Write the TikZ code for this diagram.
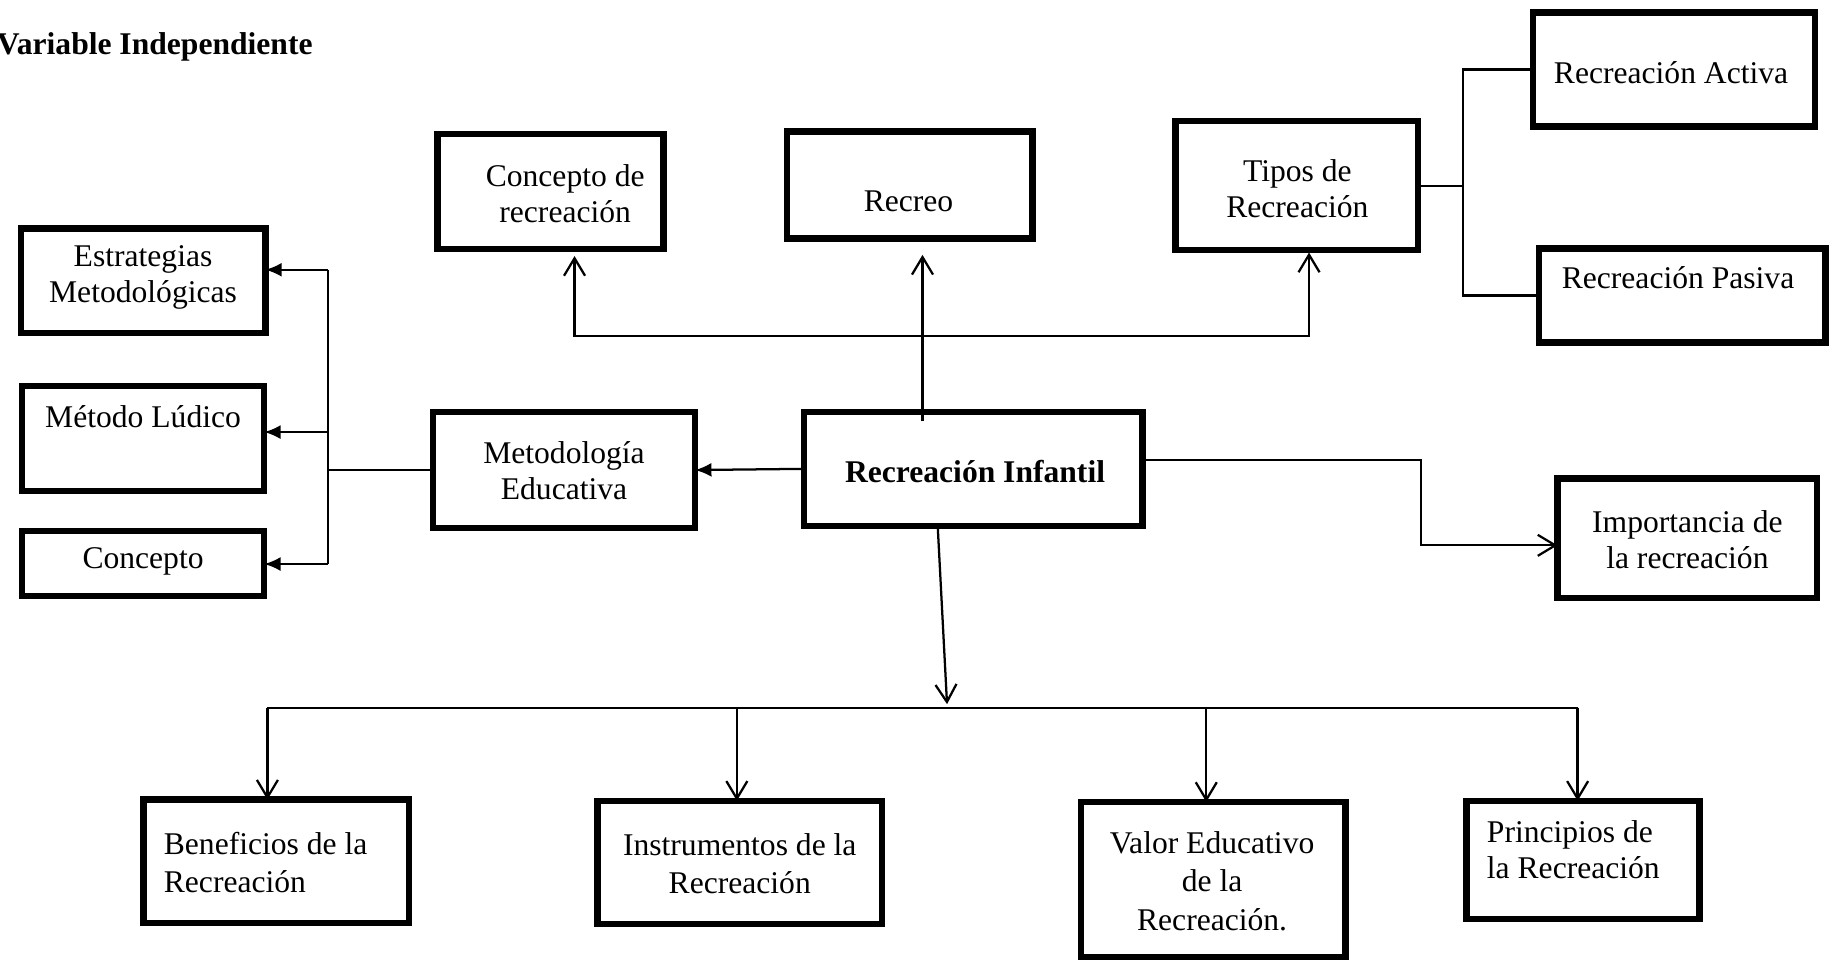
\documentclass[tikz,border=0pt]{standalone}
\usepackage{fontspec}
\setmainfont{Liberation Serif}
\usetikzlibrary{arrows.meta,calc}
\tikzset{
  bx/.style={draw, line width=3.1pt, inner sep=0pt, outer sep=0pt},
  txt/.style={inner sep=0pt, align=center, font=\fontsize{15.4}{17.5}\selectfont},
  txtb/.style={inner sep=0pt, align=center, font=\fontsize{15.4}{18.8}\selectfont},
  ln/.style={line width=1.1pt, line join=miter},
  oarr/.style={ln, -{Straight Barb[length=0.3cm,width=0.36cm]}},
  barr/.style={ln, {Straight Barb[length=0.3cm,width=0.36cm]}-{Straight Barb[length=0.3cm,width=0.36cm]}},
  farr/.style={ln, -{Latex[length=0.28cm,width=0.24cm]}}
}
\newcommand\mkbox[5]{\node[bx, minimum width=#4*0.02cm-0.11cm, minimum height=#5*0.02cm-0.11cm] (#1) at (#2,#3) {};}
\begin{document}
\begin{tikzpicture}[x=0.02cm,y=-0.02cm]
\useasboundingbox (0,0) rectangle (1568,823);
% title
\node[txt, anchor=west, font=\fontsize{15.4}{17.5}\selectfont\bfseries] (title) at (-3,40) {Variable Independiente};
% boxes
\mkbox{estr}{122.5}{240.5}{215}{95}
\mkbox{metodo}{122.5}{375.5}{213}{95}
\mkbox{concepto}{122.5}{482.5}{213}{61}
\mkbox{metedu}{483}{402.5}{230}{105}
\mkbox{recinf}{833.5}{401.5}{295}{103}
\mkbox{concrec}{471.5}{164}{199}{104}
\mkbox{recreo}{779}{158.5}{216}{97}
\mkbox{tipos}{1110.5}{159}{213}{116}
\mkbox{activa}{1433.5}{59.5}{247}{103}
\mkbox{pasiva}{1440.5}{253}{251}{86}
\mkbox{import}{1445}{461}{228}{108}
\mkbox{benef}{236.5}{737.5}{233}{111}
\mkbox{instr}{633.5}{738.5}{249}{111}
\mkbox{valor}{1039}{753}{232}{138}
\mkbox{princ}{1355.5}{736.5}{205}{107}
% texts
\node[txt] (testr) at (122.5,237.5) {Estrategias\\Metodológicas};
\node[txt] (tmetodo) at (122.5,357) {Método Lúdico};
\node[txt] (tconcepto) at (122.5,481) {Concepto};
\node[txt] (tmetedu) at (483,403) {Metodología\\Educativa};
\node[txt, font=\fontsize{15.4}{17.5}\selectfont\bfseries] (trecinf) at (835,404) {Recreación Infantil};
\node[txt] (tconcrec) at (484,166) {Concepto de\\recreación};
\node[txt] (trecreo) at (778,172) {Recreo};
\node[txt] (ttipos) at (1111,161.5) {Tipos de\\Recreación};
\node[txt] (tactiva) at (1431,62) {Recreación Activa};
\node[txt] (tpasiva) at (1437,238) {Recreación Pasiva};
\node[txt] (timport) at (1445,462.5) {Importancia de\\la recreación};
\node[txtb, anchor=west, align=left] (tbenef) at (140,738.5) {Beneficios de la\\Recreación};
\node[txtb] (tinstr) at (633.5,739.5) {Instrumentos de la\\Recreación};
\node[txtb] (tvalor) at (1038,754.5) {Valor Educativo\\de la\\Recreación.};
\node[txt, anchor=west, align=left] (tprinc) at (1273,728) {Principios de\\la Recreación};
% connectors top
\coordinate (xr) at (790,0);
\draw[oarr, shorten <=-0.16cm, shorten >=0.28cm] (recinf.north -| xr) -- (recreo.south -| xr);
\coordinate (xa) at (492,288);
\coordinate (xb) at (1121,288);
\draw[barr, shorten <=0.12cm, shorten >=0.04cm] (concrec.south -| xa) -- (xa) -- (xb) -- (tipos.south -| xb);
% tipos branches
\coordinate (tp) at (1253,0);
\draw[ln] (tipos.east) -- (tipos.east -| tp);
\draw[ln] (activa.west) -- (activa.west -| tp) -- (pasiva.west -| tp) -- (pasiva.west);
% left
\draw[farr] (recinf.west) -- (metedu.east);
\coordinate (tl) at (281,0);
\coordinate (ya) at (0,231);
\coordinate (yb) at (0,370);
\coordinate (yc) at (0,483);
\draw[ln] (metedu.west) -- (metedu.west -| tl);
\draw[ln] (tl |- ya) -- (tl |- yc);
\draw[farr] (tl |- ya) -- (estr.east |- ya);
\draw[farr] (tl |- yb) -- (metodo.east |- yb);
\draw[farr] (tl |- yc) -- (concepto.east |- yc);
% right
\coordinate (ri) at (1217,394);
\coordinate (rj) at (1217,467);
\draw[oarr] (recinf.east |- ri) -- (ri) -- (rj) -- (import.west |- rj);
% bottom
\coordinate (rb) at (803,0);
\coordinate (bt) at (811,603);
\draw[oarr] (recinf.south -| rb) -- (bt);
\coordinate (b1) at (229,606);
\coordinate (b2) at (631,606);
\coordinate (b3) at (1033,606);
\coordinate (b4) at (1351,606);
\draw[ln] (b1) -- (b4);
\draw[oarr] (b1) -- (benef.north -| b1);
\draw[oarr] (b2) -- (instr.north -| b2);
\draw[oarr] (b3) -- (valor.north -| b3);
\draw[oarr] (b4) -- (princ.north -| b4);
\end{tikzpicture}
\end{document}
